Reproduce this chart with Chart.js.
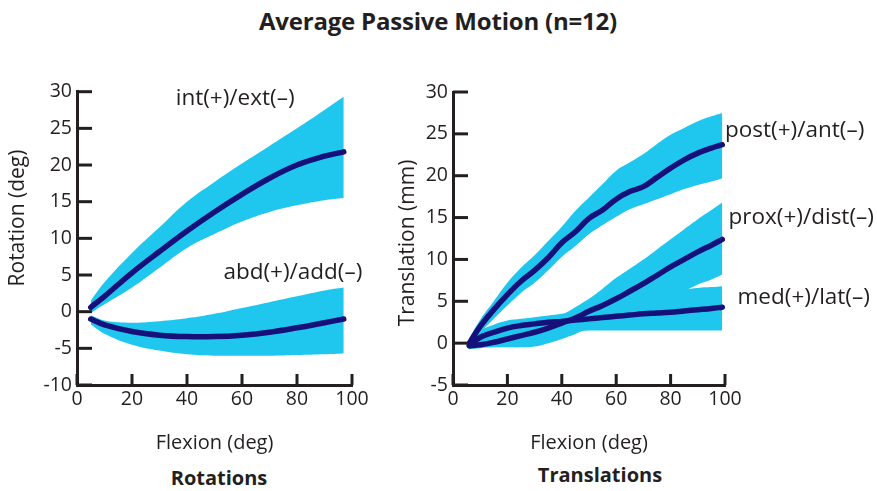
<!DOCTYPE html>
<html>
<head>
<meta charset="utf-8">
<script src="https://cdn.jsdelivr.net/npm/chart.js@4"></script>
<style>
  body { margin: 0; background: #fff; width: 877px; height: 491px; position: relative; overflow: hidden; font-family: "Open Sans", sans-serif; color: #231f20; }
  .txt { position: absolute; font-weight: bold; white-space: nowrap; transform: translate(-50%, -50%); }
  canvas { position: absolute; }
</style>
</head>
<body>
<div class="txt" style="left:438px; top:20px; font-size:24px; letter-spacing:-0.2px;">Average Passive Motion (n=12)</div>
<div class="txt" style="left:219px; top:477px; font-size:20px;">Rotations</div>
<div class="txt" style="left:600px; top:474px; font-size:20px;">Translations</div>
<canvas id="rot" style="left:0; top:75px;"></canvas>
<canvas id="trans" style="left:385px; top:75px;"></canvas>
<script>
const INK = '#231f20';
const BAND = '#1fc6ee';
const LINE = '#15107a';

// rotations (deg) vs flexion (deg)
const rotFlexion = [5, 10, 20, 30, 40, 50, 60, 70, 80, 90, 97];
const intExtMean  = [0.6, 2.1, 5.3, 8.2, 11, 13.6, 16, 18.2, 20, 21.2, 21.8];
const intExtUpper = [1.5, 4, 8, 11.5, 15, 17.7, 20.2, 22.6, 25, 27.5, 29.3];
const intExtLower = [-0.2, 1, 3.3, 6, 8.7, 10.6, 12.3, 13.6, 14.5, 15.2, 15.5];
const abdAddMean  = [-1, -1.8, -2.7, -3.2, -3.4, -3.4, -3.2, -2.8, -2.2, -1.5, -1];
const abdAddUpper = [-0.5, -1.2, -1.5, -1.3, -0.9, -0.3, 0.5, 1.3, 2.1, 2.9, 3.3];
const abdAddLower = [-1.7, -3, -4.5, -5.3, -5.8, -6, -6, -6, -5.9, -5.8, -5.7];

// translations (mm) vs flexion (deg)
const transFlexion = [6, 10, 15, 20, 25, 30, 35, 40, 45, 50, 55, 60, 65, 70, 75, 80, 85, 90, 95, 99];
const postAntMean  = [0, 2, 4, 5.8, 7.4, 8.7, 10.2, 12, 13.3, 14.9, 15.9, 17.2, 18.1, 18.7, 19.8, 20.9, 21.9, 22.7, 23.3, 23.7];
const postAntUpper = [0.6, 2.8, 5, 7.2, 9, 10.5, 12.2, 13.9, 15.8, 17.4, 19, 20.6, 21.6, 22.6, 23.8, 24.9, 25.7, 26.5, 27.1, 27.5];
const postAntLower = [-0.5, 1.2, 2.9, 4.5, 6, 7.2, 8.7, 10.3, 11.6, 13, 14.1, 15.1, 16, 16.6, 17.2, 17.8, 18.4, 18.9, 19.3, 19.7];
const proxDistMean  = [-0.3, -0.2, 0.1, 0.5, 0.9, 1.3, 1.8, 2.4, 3, 3.8, 4.5, 5.3, 6.2, 7.1, 8.1, 9.1, 10, 10.9, 11.7, 12.4];
const proxDistUpper = [0, 0.3, 0.7, 1.2, 1.7, 2.2, 2.8, 3.4, 4.3, 5.3, 6.5, 7.8, 8.9, 10, 11.2, 12.4, 13.6, 14.8, 15.9, 16.8];
const proxDistLower = [-0.7, -0.6, -0.5, -0.5, -0.5, -0.4, 0, 0.5, 1.1, 1.8, 2.5, 3.2, 3.9, 4.5, 5.1, 5.6, 6.2, 7, 7.6, 8.2];
const medLatMean  = [-0.3, 0.7, 1.3, 1.8, 2.1, 2.3, 2.5, 2.6, 2.75, 2.9, 3.05, 3.2, 3.35, 3.5, 3.6, 3.7, 3.85, 4, 4.15, 4.3];
const medLatUpper = [0.3, 1.5, 2.2, 2.7, 2.9, 3.1, 3.3, 3.5, 3.8, 4.1, 4.5, 4.9, 5.3, 5.6, 5.9, 6.1, 6.4, 6.6, 6.7, 6.8];
const medLatLower = [-0.8, -0.2, 0.2, 0.6, 0.8, 1, 1.2, 1.3, 1.4, 1.5, 1.5, 1.5, 1.5, 1.5, 1.5, 1.5, 1.5, 1.5, 1.5, 1.5];

function points(xs, ys) {
    return xs.map((x, i) => ({x: x, y: ys[i]}));
}

// a mean line plus its upper/lower band, as three datasets
function seriesSets(xs, mean, upper, lower, bandIndex) {
    return [
        {data: points(xs, upper), borderWidth: 0, pointRadius: 0, fill: false, order: 2, tension: 0.4},
        {data: points(xs, lower), borderWidth: 0, pointRadius: 0, fill: bandIndex, backgroundColor: BAND, order: 2, tension: 0.4},
        {data: points(xs, mean), borderColor: LINE, borderWidth: 5.5, pointRadius: 0, fill: false, order: 0, tension: 0.4, borderCapStyle: 'round'}
    ];
}

function tickValues(scale, step) {
    const vals = [];
    for (let v = scale.min; v <= scale.max + 1e-9; v += step) {
        vals.push(v);
    }
    return vals;
}

// inward tick marks, rotated y title and the series names
const decorations = {
    id: 'decorations',
    afterDraw(chart, args, opts) {
        const ctx = chart.ctx;
        const area = chart.chartArea;
        const xs = chart.scales.x;
        const ys = chart.scales.y;
        ctx.save();
        ctx.fillStyle = INK;
        tickValues(ys, 5).forEach(v => {
            const y = ys.getPixelForValue(v);
            ctx.fillRect(area.left, y - 1.5, 15, 3);
        });
        tickValues(xs, 20).forEach(v => {
            const x = xs.getPixelForValue(v);
            ctx.fillRect(x - 1.5, area.bottom - 11, 3, 11);
        });

        ctx.textBaseline = 'middle';
        ctx.textAlign = 'center';
        ctx.font = '21px "Open Sans"';
        ctx.translate(opts.yTitle.x, opts.yTitle.y);
        ctx.rotate(-Math.PI / 2);
        ctx.fillText(opts.yTitle.text, 0, 0);
        ctx.setTransform(1, 0, 0, 1, 0, 0);

        ctx.font = '22.5px "Open Sans"';
        opts.items.forEach(item => {
            ctx.textAlign = item.align;
            ctx.fillText(item.text, xs.getPixelForValue(item.x), ys.getPixelForValue(item.y));
        });
        ctx.restore();
    }
};

function makeChart(id, width, height, datasets, yMin, yMax, yTitle, yWidth, padding, labels) {
    const canvas = document.getElementById(id);
    canvas.width = width;
    canvas.height = height;
    canvas.style.width = width + 'px';
    canvas.style.height = height + 'px';
    return new Chart(canvas.getContext('2d'), {
        type: 'line',
        data: {datasets: datasets},
        plugins: [decorations],
        options: {
            responsive: false,
            animation: false,
            layout: {padding: padding},
            plugins: {
                legend: {display: false},
                tooltip: {enabled: false},
                decorations: {items: labels, yTitle: yTitle}
            },
            scales: {
                x: {
                    type: 'linear', min: 0, max: 100,
                    grid: {display: false, drawTicks: false},
                    border: {display: true, color: INK, width: 3},
                    ticks: {stepSize: 20, padding: 3, color: INK, font: {family: 'Open Sans', size: 19.5}, maxRotation: 0},
                    title: {display: true, text: 'Flexion (deg)', color: INK, font: {family: 'Open Sans', size: 20}, padding: {bottom: 10}},
                    afterFit(scale) { scale.height = 80; }
                },
                y: {
                    min: yMin, max: yMax,
                    grid: {display: false, drawTicks: false},
                    border: {display: true, color: INK, width: 3},
                    ticks: {stepSize: 5, padding: 5, color: INK, font: {family: 'Open Sans', size: 19.5}},
                    afterFit(scale) { scale.width = yWidth; }
                }
            }
        }
    });
}

makeChart('rot', 385, 390,
    seriesSets(rotFlexion, intExtMean, intExtUpper, intExtLower, 0)
        .concat(seriesSets(rotFlexion, abdAddMean, abdAddUpper, abdAddLower, 3)),
    -10, 30, {text: 'Rotation (deg)', x: 18, y: 143}, 77, {top: 15, right: 33, bottom: 0, left: 0},
    [
        {text: 'int(+)/ext(\u2013)', x: 57.5, y: 29, align: 'center'},
        {text: 'abd(+)/add(\u2013)', x: 78.5, y: 5.3, align: 'center'}
    ]);

makeChart('trans', 492, 390,
    seriesSets(transFlexion, postAntMean, postAntUpper, postAntLower, 0)
        .concat(seriesSets(transFlexion, proxDistMean, proxDistUpper, proxDistLower, 3))
        .concat(seriesSets(transFlexion, medLatMean, medLatUpper, medLatLower, 6)),
    -5, 30, {text: 'Translation (mm)', x: 23, y: 168}, 68, {top: 17, right: 152, bottom: 0, left: 0},
    [
        {text: 'post(+)/ant(\u2013)', x: 100, y: 25.4, align: 'left'},
        {text: 'prox(+)/dist(\u2013)', x: 101.3, y: 15, align: 'left'},
        {text: 'med(+)/lat(\u2013)', x: 104.6, y: 5.5, align: 'left'}
    ]);
</script>
</body>
</html>
